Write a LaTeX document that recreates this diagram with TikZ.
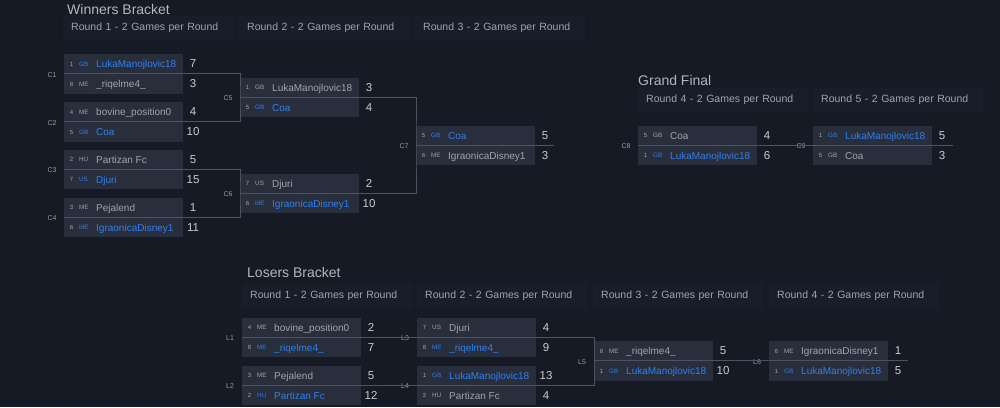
\documentclass[tikz,border=0pt]{standalone}
\usepackage{fontspec}
\setmainfont{Liberation Sans}

\definecolor{pagebg}{HTML}{161A25}
\definecolor{headbg}{HTML}{191D29}
\definecolor{slotbg}{HTML}{292E3C}
\definecolor{wirecol}{HTML}{4E545F}
\definecolor{dimtext}{HTML}{A0A4AB}
\definecolor{wintext}{HTML}{2F80ED}
\definecolor{scoretext}{HTML}{C8CBD0}
\definecolor{titletext}{HTML}{B2B6BC}
\definecolor{lbltext}{HTML}{969BA3}

% one player row: name, x, top, seed, country, player, score, colour
\newcommand{\brkslot}[8]{%
  \node[slotbox] (#1) at (#2,#3) {};
  \node[seedtxt] (#1s) at ([xshift=7.5pt,yshift=-2.2pt]#1.west) {#4};
  \node[cctxt,text=#8] (#1c) at ([xshift=15pt,yshift=-2.2pt]#1.west) {#5};
  \node[nametxt,text=#8] (#1n) at ([xshift=32pt,yshift=-3.6pt]#1.west) {#6};
  \node[scoretxt] (#1p) at ([xshift=129pt,yshift=-4pt]#1.west) {#7};
}
% match point: name, label, x, top
\newcommand{\brkmatch}[4]{%
  \coordinate (#1) at (#3,#4+19.75);
  \node[matchlbl] (#1l) at ([xshift=-12pt,yshift=-1pt]#1) {#2};
}

\begin{document}
\begin{tikzpicture}[x=1pt,y=-1pt,
  slotbox/.style={anchor=north west,fill=slotbg,minimum width=119pt,minimum height=19.5pt,inner sep=0pt},
  seedtxt/.style={anchor=base,inner sep=0pt,text=dimtext,font=\fontsize{6}{7}\selectfont},
  cctxt/.style={anchor=base west,inner sep=0pt,font=\fontsize{6.3}{7}\selectfont},
  nametxt/.style={anchor=base west,inner sep=0pt,font=\fontsize{10}{12}\selectfont},
  scoretxt/.style={anchor=base,inner sep=0pt,text=scoretext,font=\fontsize{11.5}{13}\selectfont},
  matchlbl/.style={anchor=center,inner sep=0pt,text=lbltext,font=\fontsize{7}{8}\selectfont},
  headbox/.style={anchor=north west,fill=headbg,text=dimtext,minimum height=25pt,inner xsep=8pt,inner ysep=0pt,text width=154pt,align=left,font=\fontsize{10.5}{13}\selectfont},
  titletxt/.style={anchor=west,inner sep=0pt,text=titletext,font=\fontsize{14}{17}\selectfont},
  wire/.style={draw=wirecol,line width=0.8pt}]

  \fill[pagebg] (0,0) rectangle (1000,407);
  \useasboundingbox (0,0) rectangle (1000,407);

  \node[titletxt] (wtitle) at (67,9.5) {Winners Bracket};
  \node[headbox] (wr1) at (63,15) {Round 1 - 2 Games per Round};
  \node[headbox] (wr2) at (239,15) {Round 2 - 2 Games per Round};
  \node[headbox] (wr3) at (415,15) {Round 3 - 2 Games per Round};

  \node[titletxt] (gtitle) at (638,80.5) {Grand Final};
  \node[headbox] (gr4) at (638,87) {Round 4 - 2 Games per Round};
  \node[headbox] (gr5) at (813,87) {Round 5 - 2 Games per Round};

  \node[titletxt] (ltitle) at (247,272.5) {Losers Bracket};
  \node[headbox] (lr1) at (242,283) {Round 1 - 2 Games per Round};
  \node[headbox] (lr2) at (417,283) {Round 2 - 2 Games per Round};
  \node[headbox] (lr3) at (593,283) {Round 3 - 2 Games per Round};
  \node[headbox] (lr4) at (769,283) {Round 4 - 2 Games per Round};

  \brkslot{c1a}{64}{54}{1}{GB}{LukaManojlovic18}{7}{wintext}
  \brkslot{c1b}{64}{74}{8}{ME}{\_riqelme4\_}{3}{dimtext}
  \brkslot{c2a}{64}{102}{4}{ME}{bovine\_position0}{4}{dimtext}
  \brkslot{c2b}{64}{122}{5}{GB}{Coa}{10}{wintext}
  \brkslot{c3a}{64}{149.5}{2}{HU}{Partizan Fc}{5}{dimtext}
  \brkslot{c3b}{64}{169.5}{7}{US}{Djuri}{15}{wintext}
  \brkslot{c4a}{64}{197.5}{3}{ME}{Pejalend}{1}{dimtext}
  \brkslot{c4b}{64}{217.5}{6}{ME}{IgraonicaDisney1}{11}{wintext}

  \brkslot{c5a}{240}{77.75}{1}{GB}{LukaManojlovic18}{3}{dimtext}
  \brkslot{c5b}{240}{97.75}{5}{GB}{Coa}{4}{wintext}
  \brkslot{c6a}{240}{173.5}{7}{US}{Djuri}{2}{dimtext}
  \brkslot{c6b}{240}{193.5}{6}{ME}{IgraonicaDisney1}{10}{wintext}

  \brkslot{c7a}{416}{125.6}{5}{GB}{Coa}{5}{wintext}
  \brkslot{c7b}{416}{145.6}{6}{ME}{IgraonicaDisney1}{3}{dimtext}

  \brkslot{c8a}{638}{125.6}{5}{GB}{Coa}{4}{dimtext}
  \brkslot{c8b}{638}{145.6}{1}{GB}{LukaManojlovic18}{6}{wintext}
  \brkslot{c9a}{813}{125.6}{1}{GB}{LukaManojlovic18}{5}{wintext}
  \brkslot{c9b}{813}{145.6}{5}{GB}{Coa}{3}{dimtext}

  \brkslot{l1a}{242}{317.5}{4}{ME}{bovine\_position0}{2}{dimtext}
  \brkslot{l1b}{242}{337.5}{8}{ME}{\_riqelme4\_}{7}{wintext}
  \brkslot{l2a}{242}{365.5}{3}{ME}{Pejalend}{5}{dimtext}
  \brkslot{l2b}{242}{385.5}{2}{HU}{Partizan Fc}{12}{wintext}
  \brkslot{l3a}{417}{317.5}{7}{US}{Djuri}{4}{dimtext}
  \brkslot{l3b}{417}{337.5}{8}{ME}{\_riqelme4\_}{9}{wintext}
  \brkslot{l4a}{417}{365.5}{1}{GB}{LukaManojlovic18}{13}{wintext}
  \brkslot{l4b}{417}{385.5}{2}{HU}{Partizan Fc}{4}{dimtext}
  \brkslot{l5a}{594}{341}{8}{ME}{\_riqelme4\_}{5}{dimtext}
  \brkslot{l5b}{594}{361}{1}{GB}{LukaManojlovic18}{10}{wintext}
  \brkslot{l6a}{769}{341}{6}{ME}{IgraonicaDisney1}{1}{dimtext}
  \brkslot{l6b}{769}{361}{1}{GB}{LukaManojlovic18}{5}{wintext}

  \brkmatch{c1}{C1}{64}{54}
  \brkmatch{c2}{C2}{64}{102}
  \brkmatch{c3}{C3}{64}{149.5}
  \brkmatch{c4}{C4}{64}{197.5}
  \brkmatch{c5}{C5}{240}{77.75}
  \brkmatch{c6}{C6}{240}{173.5}
  \brkmatch{c7}{C7}{416}{125.6}
  \brkmatch{c8}{C8}{638}{125.6}
  \brkmatch{c9}{C9}{813}{125.6}
  \brkmatch{l1}{L1}{242}{317.5}
  \brkmatch{l2}{L2}{242}{365.5}
  \brkmatch{l3}{L3}{417}{317.5}
  \brkmatch{l4}{L4}{417}{365.5}
  \brkmatch{l5}{L5}{594}{341}
  \brkmatch{l6}{L6}{769}{341}

  \coordinate (c7e) at (554,145.35);
  \coordinate (c9e) at (953,145.35);
  \coordinate (l6e) at (908,360.75);

  \draw[wire] (c1) -| (c5) |- (c2);
  \draw[wire] (c3) -| (c6) |- (c4);
  \draw[wire] (c5) -| (c7) |- (c6);
  \draw[wire] (c7) -- (c7e);
  \draw[wire] (c8) -- (c9) -- (c9e);

  \draw[wire] (l1) -- (l3) -| (l5) |- (l4) -- (l2);
  \draw[wire] (l5) -- (l6) -- (l6e);

\end{tikzpicture}
\end{document}
